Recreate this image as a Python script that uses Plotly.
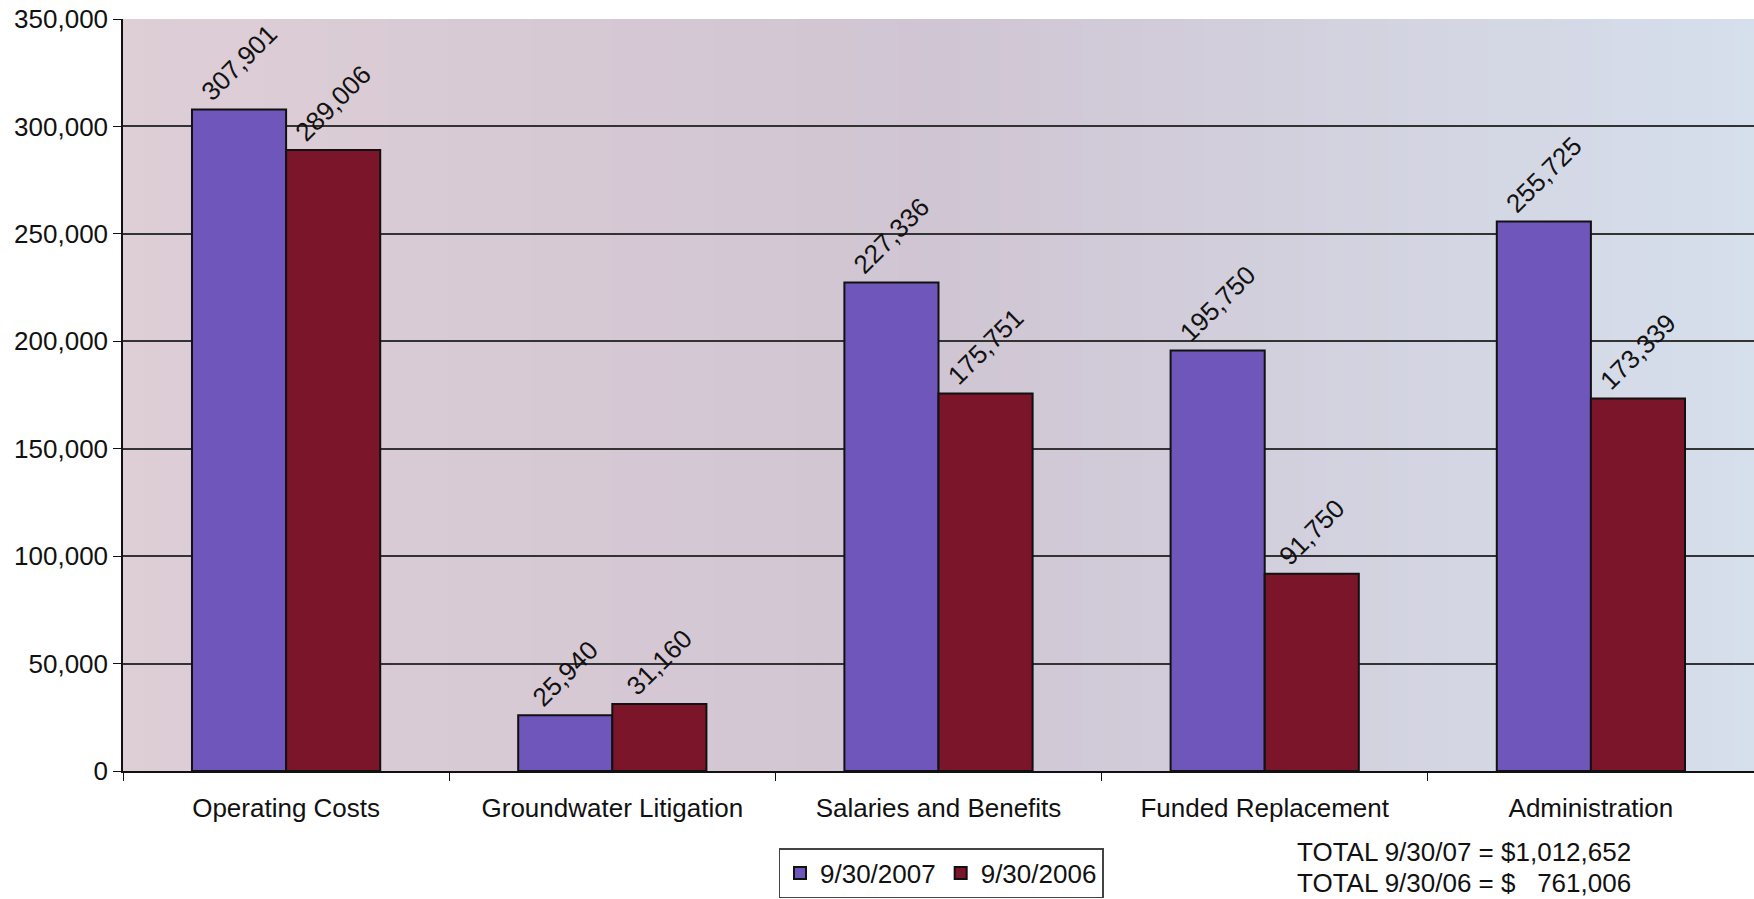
import plotly.graph_objects as go

categories = ["Operating Costs", "Groundwater Litigation", "Salaries and Benefits",
              "Funded Replacement", "Administration"]
values_2007 = [307901, 25940, 227336, 195750, 255725]
values_2006 = [289006, 31160, 175751, 91750, 173339]
series_names = ["9/30/2007", "9/30/2006"]
total_lines = ["TOTAL 9/30/07 = $1,012,652", "TOTAL 9/30/06 = $\u00a0\u00a0\u00a0761,006"]

FONT = "Liberation Sans, Arial, sans-serif"
FS = 26

fig = go.Figure()
fig.add_trace(go.Bar(
    x=categories, y=values_2007, name=series_names[0],
    marker=dict(color="#6f56bb", line=dict(color="#111111", width=2)),
    texttemplate="%{y:,}", textposition="outside", textangle=-45,
    constraintext="none", cliponaxis=False,
    textfont=dict(family=FONT, size=FS, color="#111111"),
))
fig.add_trace(go.Bar(
    x=categories, y=values_2006, name=series_names[1],
    marker=dict(color="#7b1529", line=dict(color="#111111", width=2)),
    texttemplate="%{y:,}", textposition="outside", textangle=-45,
    constraintext="none", cliponaxis=False,
    textfont=dict(family=FONT, size=FS, color="#111111"),
))

# background gradient (pinkish grey on the left to light blue on the right)
shapes = []
N = 80
c0 = (222, 206, 214)
c1 = (208, 197, 211)
c2 = (214, 223, 236)
for i in range(N):
    t = (i + 0.5) / N
    if t < 0.5:
        u = t / 0.5
        c = [round(c0[k] + (c1[k] - c0[k]) * u) for k in range(3)]
    else:
        u = (t - 0.5) / 0.5
        c = [round(c1[k] + (c2[k] - c1[k]) * u) for k in range(3)]
    shapes.append(dict(type="rect", xref="x domain", yref="y domain",
                       x0=i / N, x1=(i + 1) / N + 0.002, y0=0, y1=1,
                       fillcolor=f"rgb({c[0]},{c[1]},{c[2]})",
                       line=dict(width=0), layer="below"))

annotations = []
for line, ypx in zip(total_lines, [852, 883]):
    annotations.append(dict(text=line, xref="paper", yref="paper",
                            x=(1295 - 123) / 1631, y=-(ypx - 771) / 752,
                            xanchor="left", yanchor="middle", align="left",
                            showarrow=False, font=dict(family=FONT, size=FS)))

fig.update_layout(
    width=1754, height=899,
    margin=dict(l=123, r=0, t=19, b=128, autoexpand=False),
    paper_bgcolor="white",
    plot_bgcolor="rgba(0,0,0,0)",
    barmode="group", bargap=0.423, bargroupgap=0,
    font=dict(family=FONT, size=FS, color="#111111"),
    shapes=shapes,
    showlegend=True,
    legend=dict(orientation="h", x=(941 - 123) / 1631, xref="paper", xanchor="center",
                y=(899 - 873) / 899, yref="container", yanchor="middle",
                bgcolor="white", bordercolor="#444444", borderwidth=1.5,
                font=dict(family=FONT, size=FS), itemwidth=30,
                tracegroupgap=0),
    annotations=annotations,
)
fig.update_yaxes(range=[0, 350000], dtick=50000, tickformat=",",
                 showgrid=True, gridcolor="#333333", gridwidth=1.5,
                 showline=True, linecolor="#111111", linewidth=1.5,
                 ticks="outside", ticklen=8, tickcolor="#111111",
                 tickfont=dict(family=FONT, size=FS), zeroline=False,
                 automargin=False)
fig.update_xaxes(showline=True, linecolor="#111111", linewidth=1.5,
                 ticks="outside", ticklen=8, tickcolor="#111111",
                 tickson="boundaries", showgrid=False, ticklabelstandoff=13,
                 tickfont=dict(family=FONT, size=FS), automargin=False)

fig.write_html("out.html", config={"displayModeBar": False},
               post_script="document.body.style.margin='0';document.body.style.overflow='hidden';")
